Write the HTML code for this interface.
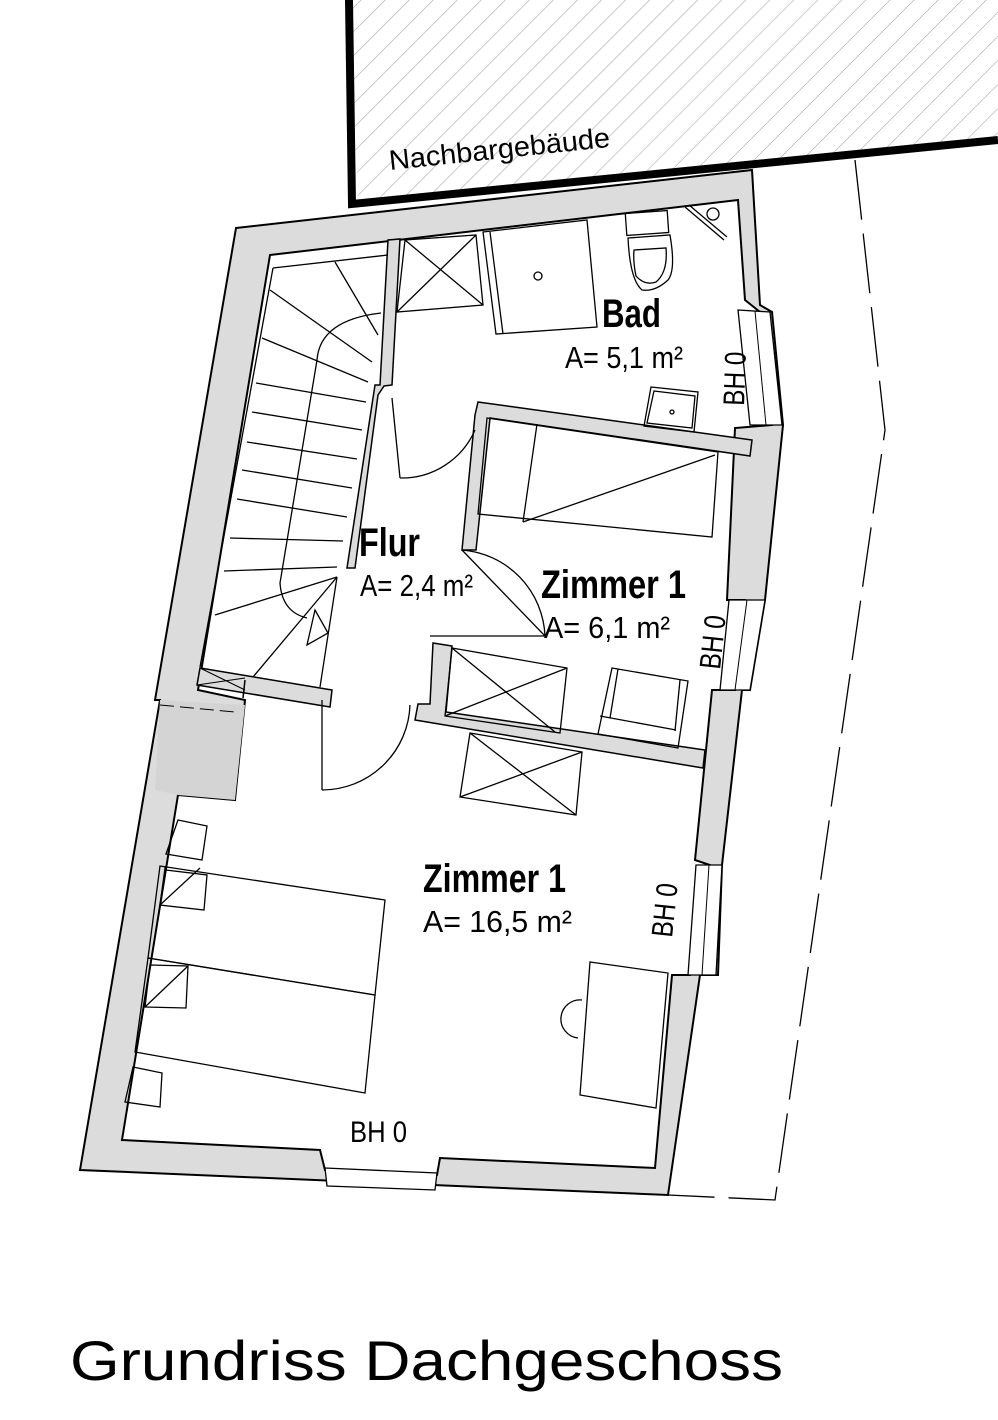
<!DOCTYPE html>
<html><head><meta charset="utf-8"><style>
html,body{margin:0;padding:0;background:#fff;}
svg{display:block;}
text{font-family:"Liberation Sans",sans-serif;fill:#000;}
</style></head><body>
<svg width="998" height="1420" viewBox="0 0 998 1420" xmlns="http://www.w3.org/2000/svg">
<defs>
<pattern id="h" patternUnits="userSpaceOnUse" width="17" height="17" patternTransform="rotate(45)">
<line x1="0" y1="0" x2="0" y2="17" stroke="#aaa" stroke-width="1.2"/>
</pattern>
</defs>
<polygon points="349,0 998,0 998,140 358,204" fill="url(#h)"/>
<polyline points="349,0 352,204 998,140" fill="none" stroke="#000" stroke-width="8"/>
<text x="390" y="170" font-size="28" textLength="222" lengthAdjust="spacingAndGlyphs" transform="rotate(-6 390 170)">Nachbargebäude</text>
<polyline points="855,160 885,430 775,1200 668,1195" fill="none" stroke="#000" stroke-width="1.3" stroke-dasharray="60,14"/>
<polygon points="236,228 752,170 760,305 772,312 783,425 765,600 750,690 742,690 722,865 718,975 700,975 668,1195 80,1170 160,700 155,700" fill="#dcdcdc" stroke="#000" stroke-width="2"/>
<polygon points="270,255 738,200 745,300 760,312 772,425 735,428 727,600 745,600 735,690 712,690 695,860 710,865 690,975 672,975 655,1168 440,1158 437,1175 325,1170 320,1150 122,1140 178,795 235,800 245,700 198,690" fill="#fff" stroke="#000" stroke-width="2"/>
<polygon points="738,310 770,312 782,425 750,425" fill="#fff" stroke="#000" stroke-width="1.3"/>
<line x1="755" y1="311" x2="766" y2="425" stroke="#000" stroke-width="1"/>
<polygon points="729,600 765,600 750,690 720,690" fill="#fff" stroke="#000" stroke-width="1.3"/>
<line x1="747" y1="600" x2="735" y2="690" stroke="#000" stroke-width="1"/>
<polygon points="696,865 722,865 716,975 688,975" fill="#fff" stroke="#000" stroke-width="1.3"/>
<line x1="709" y1="865" x2="702" y2="975" stroke="#000" stroke-width="1"/>
<polygon points="325,1168 437,1173 435,1190 327,1186" fill="#fff" stroke="#000" stroke-width="1.3"/>
<polygon points="160,700 245,705 235,800 178,795 155,790" fill="#d4d4d4"/>
<line x1="160" y1="705" x2="235" y2="712" stroke="#000" stroke-width="1" stroke-dasharray="14,6"/>
<polygon points="388,240 400,239 392,385 384,386 378,395 355,568 347,568 375,385 380,385" fill="#dcdcdc" stroke="#000" stroke-width="1.5"/>
<polygon points="478,402 752,440 750,456 490,418 476,550 462,550 475,415" fill="#dcdcdc" stroke="#000" stroke-width="1.5"/>
<polygon points="433,643 452,646 446,712 705,750 703,768 415,720 418,704 430,704" fill="#dcdcdc" stroke="#000" stroke-width="1.5"/>
<polygon points="200,668 332,690 330,707 197,685" fill="#dcdcdc" stroke="#000" stroke-width="1.5"/>
<line x1="245" y1="680" x2="243" y2="698" stroke="#000" stroke-width="1.5"/>
<line x1="200" y1="668" x2="245" y2="690" stroke="#000" stroke-width="1"/>
<line x1="197" y1="685" x2="245" y2="678" stroke="#000" stroke-width="1"/>
<g stroke="#000" stroke-width="1.3" fill="none">
<line x1="273" y1="268" x2="388" y2="255"/>
<line x1="273" y1="268" x2="200" y2="667"/>
<line x1="270" y1="290" x2="372" y2="362"/>
<line x1="335" y1="262" x2="378" y2="335"/>
<line x1="262" y1="338" x2="368" y2="382"/>
<line x1="256" y1="383" x2="366" y2="402"/>
<line x1="252" y1="412" x2="362" y2="430"/>
<line x1="247" y1="442" x2="357" y2="459"/>
<line x1="242" y1="470" x2="352" y2="488"/>
<line x1="237" y1="499" x2="347" y2="517"/>
<line x1="230" y1="538" x2="343" y2="541"/>
<line x1="224" y1="571" x2="337" y2="567"/>
<line x1="215" y1="615" x2="337" y2="577"/>
<line x1="337" y1="577" x2="253" y2="677"/>
<line x1="337" y1="577" x2="320" y2="687"/>
<path d="M381,313 Q320,320 317,360 L280,583 Q282,612 307,618"/>
<polygon points="315,610 328,633 307,645"/>
<line x1="392" y1="398" x2="400" y2="478"/>
<path d="M400,478 A80,80 0 0 0 475,430"/>
<line x1="462" y1="550" x2="545" y2="636"/>
<path d="M462,550 A90,90 0 0 1 545,636"/>
<line x1="430" y1="636" x2="545" y2="636"/>
<line x1="322" y1="700" x2="322" y2="790"/>
<path d="M322,790 A88,88 0 0 0 410,705"/>
<polygon points="405,240 476,235 483,305 397,312"/>
<line x1="405" y1="240" x2="483" y2="305"/><line x1="476" y1="235" x2="397" y2="312"/>
<polygon points="483,232 587,220 597,327 496,334"/>
<line x1="490" y1="232" x2="503" y2="334"/>
<circle cx="538" cy="276" r="4"/>
<rect x="626" y="212" width="42" height="22" transform="rotate(-4 647 223)"/>
<path d="M628,238 L670,235 Q676,270 668,280 Q655,292 642,290 Q630,280 628,238 Z"/>
<path d="M634,250 L666,248 Q668,272 656,282 Q645,286 636,276 Q633,262 634,250 Z"/>
<line x1="685" y1="207" x2="724" y2="240"/><line x1="689" y1="205" x2="727" y2="237"/>
<circle cx="713" cy="214" r="6"/>
<polygon points="651,387 698,392 694,432 644,426"/>
<polygon points="654,391 695,396 692,428 647,423"/>
<circle cx="672" cy="412" r="2"/>
<polygon points="487,418 718,452 712,537 478,514"/>
<line x1="537" y1="424" x2="523" y2="522"/>
<line x1="523" y1="522" x2="715" y2="455"/>
<polygon points="452,648 567,668 560,733 445,716"/>
<line x1="452" y1="648" x2="555" y2="732"/><line x1="567" y1="668" x2="445" y2="716"/>
<polygon points="470,733 582,752 576,815 460,797"/>
<line x1="470" y1="733" x2="576" y2="815"/><line x1="582" y1="752" x2="460" y2="797"/>
<polygon points="612,668 688,681 678,748 598,734"/>
<line x1="618" y1="669" x2="610" y2="718"/><line x1="680" y1="680" x2="675" y2="731"/>
<line x1="600" y1="716" x2="676" y2="730"/>
<polygon points="178,820 207,826 202,860 166,854"/>
<polygon points="160,866 385,900 375,995 148,958"/>
<polygon points="165,868 166,870 207,875 204,910 160,905"/>
<line x1="160" y1="905" x2="200" y2="868"/>
<polygon points="148,958 375,995 365,1093 135,1052"/>
<polygon points="150,965 188,966 186,1008 145,1007"/>
<line x1="145" y1="1007" x2="188" y2="966"/>
<polygon points="133,1067 162,1073 160,1107 125,1102"/>
<polygon points="590,962 668,973 656,1108 580,1095"/>
<path d="M582,1000 A18,18 0 0 0 578,1038"/>
</g>
<text x="602" y="327" font-size="40" font-weight="bold" textLength="59" lengthAdjust="spacingAndGlyphs">Bad</text>
<text x="565" y="368" font-size="31" textLength="118" lengthAdjust="spacingAndGlyphs">A= 5,1 m²</text>
<text x="359" y="556" font-size="40" font-weight="bold" textLength="61" lengthAdjust="spacingAndGlyphs">Flur</text>
<text x="360" y="596" font-size="31" textLength="113" lengthAdjust="spacingAndGlyphs">A= 2,4 m²</text>
<text x="541" y="598" font-size="40" font-weight="bold" textLength="145" lengthAdjust="spacingAndGlyphs">Zimmer 1</text>
<text x="544" y="638" font-size="31" textLength="126" lengthAdjust="spacingAndGlyphs">A=  6,1  m²</text>
<text x="423" y="892" font-size="40" font-weight="bold" textLength="143" lengthAdjust="spacingAndGlyphs">Zimmer 1</text>
<text x="423" y="932" font-size="31" textLength="149" lengthAdjust="spacingAndGlyphs">A=   16,5  m²</text>
<text x="350" y="1142" font-size="30" textLength="57" lengthAdjust="spacingAndGlyphs">BH 0</text>
<text font-size="30" textLength="54" lengthAdjust="spacingAndGlyphs" transform="translate(744,406) rotate(-88)">BH 0</text>
<text font-size="30" textLength="54" lengthAdjust="spacingAndGlyphs" transform="translate(720,670) rotate(-84)">BH 0</text>
<text font-size="30" textLength="54" lengthAdjust="spacingAndGlyphs" transform="translate(672,938) rotate(-84)">BH 0</text>
<text x="70" y="1380" font-size="56" textLength="713" lengthAdjust="spacingAndGlyphs">Grundriss Dachgeschoss</text>
</svg>
</body></html>
